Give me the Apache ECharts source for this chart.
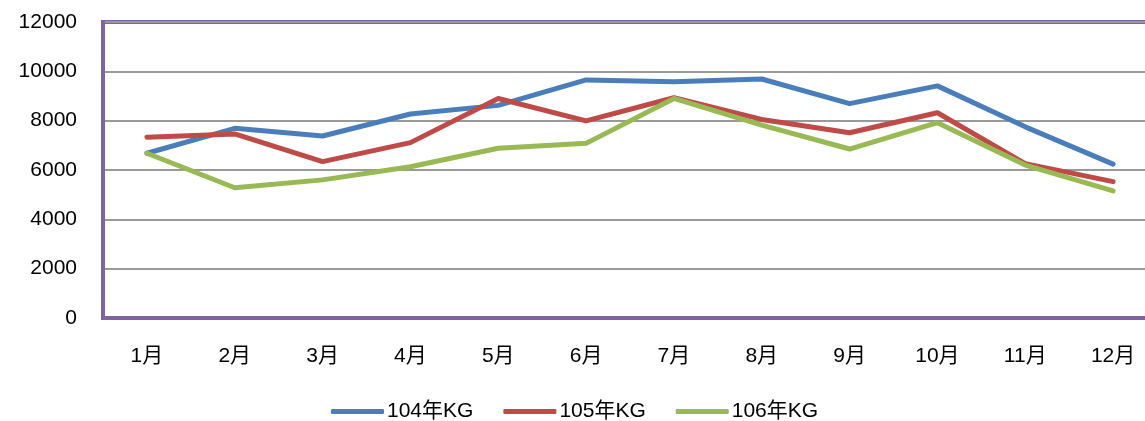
<!DOCTYPE html>
<html><head><meta charset="utf-8">
<script src="https://cdn.jsdelivr.net/npm/echarts@6/dist/echarts.min.js"></script>
<style>html,body{margin:0;padding:0;background:#fff;overflow:hidden}#c{width:1160px;height:421px}</style>
</head><body><div id="c"></div>
<script>
const categories = ['1月','2月','3月','4月','5月','6月','7月','8月','9月','10月','11月','12月'];
const s104 = [6680, 7690, 7380, 8270, 8620, 9650, 9580, 9690, 8690, 9410, 7750, 6240];
const s105 = [7330, 7460, 6340, 7110, 8900, 7990, 8930, 8050, 7510, 8320, 6260, 5530];
const s106 = [6680, 5280, 5600, 6130, 6880, 7080, 8900, 7820, 6850, 7920, 6200, 5150];
const names = ['104年KG','105年KG','106年KG'];
const colors = ['#4A7EBB','#BE4B48','#98B954'];
const font = "'Liberation Sans','Noto Sans CJK SC',sans-serif";
const chart = echarts.init(document.getElementById('c'));
const mk = (n, d, c) => ({name:n, type:'line', data:d, symbol:'none', lineStyle:{width:5, color:c, cap:'round', join:'round'}, itemStyle:{color:c}});
chart.setOption({
  animation:false,
  textStyle:{fontFamily:font},
  grid:{left:103, top:22, width:1054, height:296, show:true, borderColor:'#8064A2', borderWidth:4},
  legend:{top:396, left:326, itemWidth:53, itemHeight:5, itemGap:30, icon:'roundRect',
    textStyle:{fontSize:21, color:'#000', fontFamily:font, padding:[0,0,0,-2]}, data:names},
  xAxis:{type:'category', data:categories, boundaryGap:true,
    axisLine:{show:true, lineStyle:{color:'#8064A2', width:4}}, axisTick:{show:false},
    axisLabel:{fontSize:21, color:'#000', margin:28}},
  yAxis:{type:'value', min:0, max:12000, interval:2000,
    axisLine:{show:true, lineStyle:{color:'#8064A2', width:4}}, axisTick:{show:false},
    axisLabel:{fontSize:21, color:'#000', margin:26, formatter:v => String(v)},
    splitLine:{lineStyle:{color:'#999', width:2}}},
  series:[mk(names[0], s104, colors[0]), mk(names[1], s105, colors[1]), mk(names[2], s106, colors[2])]
});
</script></body></html>
